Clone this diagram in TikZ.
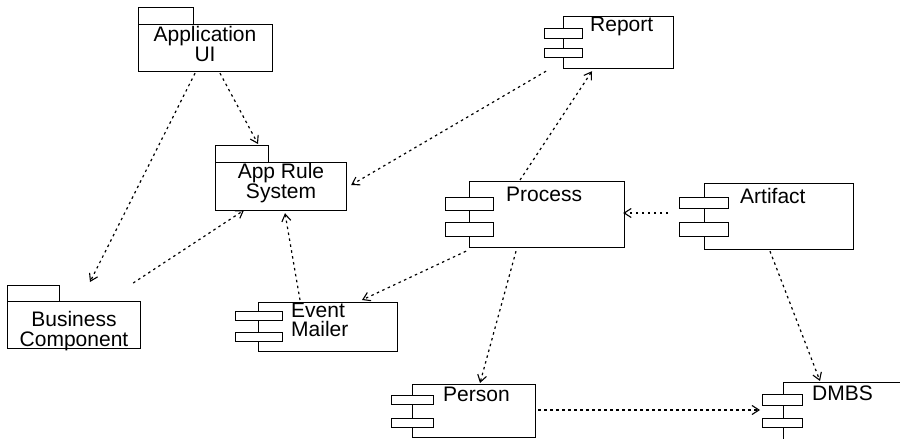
\documentclass[tikz,border=0pt]{standalone}
\usepackage{fontspec}
\setmainfont{Liberation Sans}
\usetikzlibrary{arrows.meta,calc}
\tikzset{
 box/.style={draw, line width=1.2pt, inner sep=0, anchor=north west},
 port/.style={draw, fill=white, line width=1.2pt, inner sep=0, anchor=north west},
 lbl/.style={inner sep=0, font=\fontsize{21}{20}\selectfont, align=center},
 lbll/.style={inner sep=0, font=\fontsize{21}{19}\selectfont, align=left, anchor=west},
 dep/.style={line width=1.2pt, dash pattern=on 2.5pt off 3.5pt, -{Straight Barb[length=7pt,width=9pt,line width=1.1pt]}},
}
\begin{document}
\begin{tikzpicture}[x=1pt,y=-1pt]
\useasboundingbox (0,0) rectangle (900,439);
% packages
\node[box, minimum width=55, minimum height=17] (appuitab) at (138,7) {};
\node[box, minimum width=134, minimum height=47] (appui) at (138,24) {};
\node[lbl] (appuil) at (205,44) {Application\\UI};
\node[box, minimum width=53, minimum height=17] (artab) at (215,145) {};
\node[box, minimum width=131, minimum height=48] (ar) at (215,162) {};
\node[lbl] (arl) at (281,183) {App Rule\\System};
\node[box, minimum width=52, minimum height=16] (bctab) at (7,285) {};
\node[box, minimum width=133, minimum height=47] (bc) at (7,301) {};
\node[lbl] (bcl) at (74,331) {Business\\Component};
% components
\node[box, minimum width=139, minimum height=49] (em) at (258,302) {};
\node[port, minimum width=47, minimum height=9] (emp1) at (235,311) {};
\node[port, minimum width=47, minimum height=9] (emp2) at (235,332) {};
\node[lbll] (eml) at (291,320) {Event\\Mailer};
\node[box, minimum width=110, minimum height=52] (rep) at (563,16) {};
\node[port, minimum width=38, minimum height=10] (repp1) at (544,28) {};
\node[port, minimum width=38, minimum height=9] (repp2) at (544,48) {};
\node[lbll] (repl) at (590,26) {Report};
\node[box, minimum width=155, minimum height=66] (proc) at (469,181) {};
\node[port, minimum width=48, minimum height=13] (procp1) at (445,197) {};
\node[port, minimum width=48, minimum height=14] (procp2) at (445,222) {};
\node[lbll] (procl) at (506,194) {Process};
\node[box, minimum width=149, minimum height=66] (art) at (704,183) {};
\node[port, minimum width=49, minimum height=11] (artp1) at (679,197) {};
\node[port, minimum width=49, minimum height=14] (artp2) at (679,222) {};
\node[lbll] (artl) at (740,196) {Artifact};
\node[box, minimum width=123, minimum height=53] (person) at (412,384) {};
\node[port, minimum width=42, minimum height=9] (personp1) at (391,395) {};
\node[port, minimum width=42, minimum height=9] (personp2) at (391,418) {};
\node[lbll] (personl) at (443,394) {Person};
\node[box, minimum width=200, minimum height=100] (dmbs) at (783,382) {};
\node[port, minimum width=40, minimum height=11] (dmbsp1) at (762,394) {};
\node[port, minimum width=40, minimum height=9] (dmbsp2) at (762,418) {};
\node[lbll] (dmbsl) at (812,393) {DMBS};
% dependencies
\draw[dep] ($(appui.south west)+(82,1)$) -- ($(artab.north west)+(43,-1)$);
\draw[dep] ($(appui.south west)+(57,1)$) -- ($(bctab.north west)+(83,-3)$);
\draw[dep] ($(bc.north east)+(-8,-18)$) -- ($(ar.south west)+(29,-1)$);
\draw[dep] ($(em.north west)+(42,-2)$) -- ($(ar.south west)+(70,2)$);
\draw[dep] ($(proc.south west)+(-3,3)$) -- ($(em.north west)+(104,-2)$);
\draw[dep] ($(rep.south west)+(-17,2)$) -- ($(ar.north east)+(4,23)$);
\draw[dep] ($(proc.north west)+(51,-1)$) -- ($(rep.south west)+(29,2)$);
\draw[dep] ($(art.north west)+(-36,30)$) -- ($(proc.north east)+(-2,32)$);
\draw[dep] ($(proc.south west)+(47,3)$) -- ($(person.north west)+(68,-1)$);
\draw[dep] ($(art.south west)+(66,1)$) -- ($(dmbs.north west)+(37,-1)$);
\draw[dep] ($(person.north east)+(2,26)$) -- ($(dmbs.north west)+(-23,28)$);
\end{tikzpicture}
\end{document}
